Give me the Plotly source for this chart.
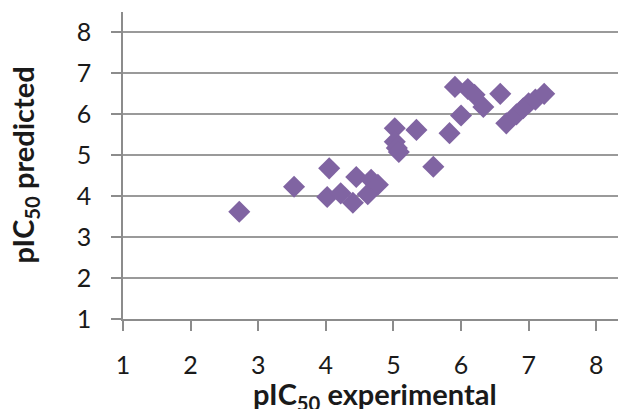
import plotly.graph_objects as go

# pIC50 experimental vs predicted
x_exp = [2.72, 3.53, 4.05, 4.02, 4.22, 4.40, 4.45, 4.62, 4.67, 4.77,
         5.02, 5.34, 5.02, 5.05, 5.08, 5.59, 5.83, 6.00, 5.91, 6.10,
         6.20, 6.33, 6.58, 6.67, 6.82, 6.92, 7.00, 7.10, 7.23]
y_pred = [3.62, 4.23, 4.68, 3.98, 4.07, 3.84, 4.47, 4.05, 4.40, 4.28,
          5.66, 5.62, 5.33, 5.18, 5.08, 4.72, 5.54, 5.97, 6.67, 6.62,
          6.48, 6.18, 6.50, 5.78, 6.00, 6.15, 6.27, 6.36, 6.50]
tick_vals = [1, 2, 3, 4, 5, 6, 7, 8]
x_title = "<b>pIC<sub>50</sub> experimental</b>"
y_title = "<b>pIC<sub>50</sub> predicted</b>"

fig = go.Figure(go.Scatter(
    x=x_exp, y=y_pred, mode="markers",
    marker=dict(symbol="diamond", size=17, color="#8064A2"),
    showlegend=False,
))

axis_common = dict(
    showline=True, linecolor="#8c8c8c", linewidth=1.5,
    ticks="outside", ticklen=10, tickcolor="#8c8c8c", tickwidth=1.5,
    zeroline=False, tickvals=tick_vals, automargin=False,
    tickfont=dict(family="Lato", size=25, color="#1a1a1a"),
)

# the page body adds an 8px offset, so margins are set to compensate
fig.update_layout(
    width=626, height=409,
    margin=dict(l=115, r=8, t=4, b=98),
    paper_bgcolor="white", plot_bgcolor="white",
    font=dict(family="Lato", color="#1a1a1a"),
    xaxis=dict(range=[1, 8.44], showgrid=False,
               ticklabelstandoff=13, **axis_common),
    yaxis=dict(range=[1, 8.5], showgrid=True, gridcolor="#9a9a9a", gridwidth=1.5,
               ticklabelstandoff=15, **axis_common),
    annotations=[
        dict(text=x_title, xref="paper", yref="paper", x=0.5, y=0,
             xanchor="center", yanchor="top", yshift=-55, showarrow=False,
             font=dict(family="Lato", size=29, color="#1a1a1a")),
        dict(text=y_title, xref="paper", yref="paper", x=0, y=0.5,
             xanchor="center", yanchor="middle", xshift=-99, textangle=-90,
             showarrow=False,
             font=dict(family="Lato", size=29, color="#1a1a1a")),
    ],
)

fig.write_html("out.html")
